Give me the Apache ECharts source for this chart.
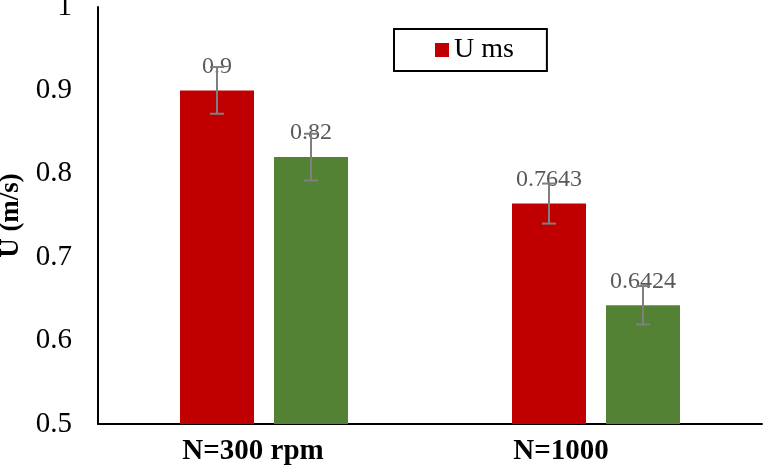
<!DOCTYPE html>
<html>
<head>
<meta charset="utf-8">
<script src="https://cdn.jsdelivr.net/npm/echarts@6/dist/echarts.min.js"></script>
<style>
  html, body { margin: 0; padding: 0; background: #fff; }
  #chart { width: 764px; height: 467px; }
</style>
</head>
<body>
<div id="chart"></div>
<script>
var categories = ['N=300 rpm', 'N=1000']
var redValues = [0.9, 0.7643]
var greenValues = [0.82, 0.6424]
var redErrors = [0.028, 0.024]
var greenErrors = [0.028, 0.023]
var yTicks = [0.5, 0.6, 0.7, 0.8, 0.9, 1]

var serif = '"Liberation Serif", "Times New Roman", serif'
var barW = 74
var gapPx = 20

// error bar data: [category index, value, error]
function errData (vals, errs) {
  return vals.map(function (v, i) { return [i, v, errs[i]] })
}

function errRender (side) {
  return function (params, api) {
    var i = api.value(0)
    var v = api.value(1)
    var e = api.value(2)
    var off = side * (barW + gapPx) / 2
    var hi = api.coord([i, v + e])
    var lo = api.coord([i, v - e])
    var x = hi[0] + off
    var cap = 7
    var style = { stroke: '#7f7f7f', lineWidth: 2 }
    return {
      type: 'group',
      children: [
        { type: 'line', shape: { x1: x, y1: hi[1], x2: x, y2: lo[1] }, style: style },
        { type: 'line', shape: { x1: x - cap, y1: hi[1], x2: x + cap, y2: hi[1] }, style: style },
        { type: 'line', shape: { x1: x - cap, y1: lo[1], x2: x + cap, y2: lo[1] }, style: style }
      ]
    }
  }
}

var labelStyle = {
  show: true,
  position: 'top',
  distance: 12,
  color: '#595959',
  fontFamily: serif,
  fontSize: 24
}

var chart = echarts.init(document.getElementById('chart'))
chart.setOption({
  animation: false,
  textStyle: { fontFamily: serif },
  grid: { left: 98, right: 2, top: 7, bottom: 43, outerBoundsMode: 'none', containLabel: false },
  legend: {
    data: ['U ms'],
    left: 394,
    top: 29,
    icon: 'rect',
    itemWidth: 14,
    itemHeight: 14,
    padding: [7, 33, 7, 41],
    borderColor: '#000',
    borderWidth: 2,
    selectedMode: false,
    textStyle: { fontFamily: serif, fontSize: 28, color: '#000' }
  },
  xAxis: {
    type: 'category',
    data: [
      { value: categories[0], textStyle: { padding: [0, 22, 0, 0] } },
      { value: categories[1], textStyle: { padding: [0, 70, 0, 0] } }
    ],
    axisLine: { lineStyle: { color: '#000', width: 2 } },
    axisTick: { show: false },
    axisLabel: {
      margin: 13,
      color: '#000',
      fontFamily: serif,
      fontWeight: 'bold',
      fontSize: 29
    }
  },
  yAxis: {
    type: 'value',
    min: yTicks[0],
    max: yTicks[yTicks.length - 1],
    interval: 0.1,
    name: 'U (m/s)',
    nameLocation: 'middle',
    nameRotate: 90,
    nameGap: 72,
    nameTextStyle: { fontFamily: serif, fontWeight: 'bold', fontSize: 27, color: '#000' },
    axisLine: { show: true, lineStyle: { color: '#000', width: 2 } },
    axisTick: { show: false },
    splitLine: { show: false },
    axisLabel: {
      margin: 26,
      color: '#000',
      fontFamily: serif,
      fontSize: 29,
      formatter: function (v) { return String(Math.round(v * 10) / 10) }
    }
  },
  series: [
    {
      name: 'U ms',
      type: 'bar',
      data: redValues,
      barWidth: barW,
      barGap: (gapPx / barW * 100) + '%',
      itemStyle: { color: '#c00000' },
      label: labelStyle
    },
    {
      name: 'U green',
      type: 'bar',
      data: greenValues,
      barWidth: barW,
      itemStyle: { color: '#548235' },
      label: labelStyle
    },
    {
      type: 'custom',
      data: errData(redValues, redErrors),
      renderItem: errRender(-1),
      z: 10
    },
    {
      type: 'custom',
      data: errData(greenValues, greenErrors),
      renderItem: errRender(1),
      z: 10
    }
  ]
})
</script>
</body>
</html>
